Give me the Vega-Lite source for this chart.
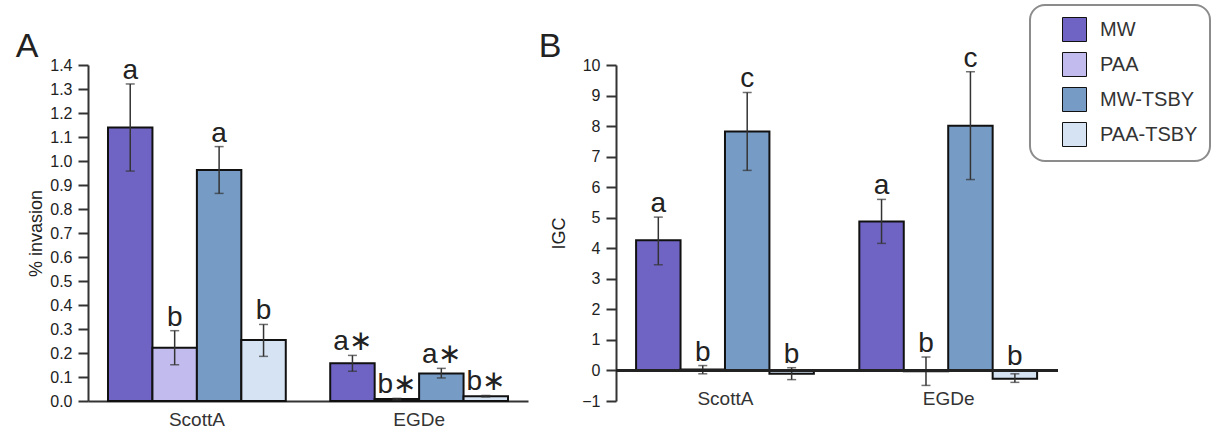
{
  "$schema": "https://vega.github.io/schema/vega-lite/v6.json",
  "padding": {"left": 15, "top": 4, "right": 0, "bottom": 0},
  "config": {
    "font": "Liberation Sans",
    "view": {"stroke": null},
    "axis": {"grid": false, "domainColor": "#333", "domainWidth": 2, "tickColor": "#333", "tickWidth": 2, "labelColor": "#222", "labelFontSize": 16, "titleFontSize": 18, "titleFontWeight": "normal", "titleColor": "#222", "labelOverlap": false},
    "legend": {"strokeColor": "#8c8c8c", "strokeWidth": 2, "cornerRadius": 15, "fillColor": "white"}
  },
  "datasets": {
    "invasion": [
      {"strain": "ScottA", "treatment": "MW", "mean": 1.14, "lo": 0.958, "hi": 1.321, "letter": "a"},
      {"strain": "ScottA", "treatment": "PAA", "mean": 0.222, "lo": 0.151, "hi": 0.293, "letter": "b"},
      {"strain": "ScottA", "treatment": "MW-TSBY", "mean": 0.963, "lo": 0.865, "hi": 1.06, "letter": "a"},
      {"strain": "ScottA", "treatment": "PAA-TSBY", "mean": 0.254, "lo": 0.186, "hi": 0.319, "letter": "b"},
      {"strain": "EGDe", "treatment": "MW", "mean": 0.157, "lo": 0.124, "hi": 0.19, "letter": "a∗"},
      {"strain": "EGDe", "treatment": "PAA", "mean": 0.008, "lo": 0.005, "hi": 0.011, "letter": "b∗"},
      {"strain": "EGDe", "treatment": "MW-TSBY", "mean": 0.115, "lo": 0.096, "hi": 0.136, "letter": "a∗"},
      {"strain": "EGDe", "treatment": "PAA-TSBY", "mean": 0.02, "lo": 0.017, "hi": 0.023, "letter": "b∗"}
    ],
    "igc": [
      {"strain": "ScottA", "treatment": "MW", "mean": 4.26, "lo": 3.46, "hi": 5.02, "letter": "a"},
      {"strain": "ScottA", "treatment": "PAA", "mean": 0.03, "lo": -0.11, "hi": 0.16, "letter": "b"},
      {"strain": "ScottA", "treatment": "MW-TSBY", "mean": 7.82, "lo": 6.55, "hi": 9.1, "letter": "c"},
      {"strain": "ScottA", "treatment": "PAA-TSBY", "mean": -0.11, "lo": -0.3, "hi": 0.09, "letter": "b"},
      {"strain": "EGDe", "treatment": "MW", "mean": 4.88, "lo": 4.16, "hi": 5.6, "letter": "a"},
      {"strain": "EGDe", "treatment": "PAA", "mean": -0.03, "lo": -0.49, "hi": 0.44, "letter": "b"},
      {"strain": "EGDe", "treatment": "MW-TSBY", "mean": 8.01, "lo": 6.25, "hi": 9.78, "letter": "c"},
      {"strain": "EGDe", "treatment": "PAA-TSBY", "mean": -0.27, "lo": -0.39, "hi": -0.11, "letter": "b"}
    ]
  },
  "spacing": 10,
  "hconcat": [
    {
      "width": 440,
      "height": 336,
      "title": {"text": "A", "anchor": "start", "frame": "bounds", "fontSize": 34, "fontWeight": "normal", "baseline": "alphabetic", "offset": -34, "dx": -12, "color": "#222"},
      "data": {"name": "invasion"},
      "encoding": {
        "x": {"field": "strain", "type": "nominal", "sort": ["ScottA", "EGDe"], "scale": {"paddingInner": 0.2, "paddingOuter": 0.09}, "axis": {"title": null, "labelAngle": 0, "ticks": false, "tickSize": 0, "labelPadding": 9, "labelFontSize": 19, "labelColor": "#333"}},
        "xOffset": {"field": "treatment", "type": "nominal", "sort": ["MW", "PAA", "MW-TSBY", "PAA-TSBY"], "scale": {"paddingInner": 0, "paddingOuter": 0}}
      },
      "layer": [
        {
          "mark": {"type": "bar", "stroke": "#111", "strokeWidth": 2},
          "encoding": {
            "y": {"field": "mean", "type": "quantitative", "scale": {"domain": [0, 1.4], "nice": false}, "axis": {"title": "% invasion", "values": [0, 0.1, 0.2, 0.3, 0.4, 0.5, 0.6, 0.7, 0.8, 0.9, 1.0, 1.1, 1.2, 1.3, 1.4], "format": ".1f", "ticks": true, "tickSize": 10, "tickWidth": 2, "tickColor": "#333", "labelOverlap": false, "labelFontSize": 16, "labelPadding": 6, "titlePadding": 4}},
            "color": {"field": "treatment", "type": "nominal", "scale": {"domain": ["MW", "PAA", "MW-TSBY", "PAA-TSBY"], "range": ["#6f64c4", "#c1bced", "#769cc6", "#d5e3f3"]},
              "legend": {"title": null, "orient": "none", "legendX": 942, "legendY": -60, "symbolType": "square", "symbolSize": 576, "symbolStrokeColor": "#aaa", "symbolStrokeWidth": 1, "labelFontSize": 20, "labelColor": "#333", "rowPadding": 6, "padding": 12, "symbolOffset": 20, "labelOffset": 13}}
          }
        },
        {
          "mark": {"type": "rule", "color": "#333", "strokeWidth": 1.5},
          "encoding": {"y": {"field": "lo", "type": "quantitative", "axis": {"title": "% invasion", "values": [0, 0.1, 0.2, 0.3, 0.4, 0.5, 0.6, 0.7, 0.8, 0.9, 1.0, 1.1, 1.2, 1.3, 1.4], "format": ".1f", "ticks": true, "tickSize": 10, "tickWidth": 2, "tickColor": "#333", "labelOverlap": false, "labelFontSize": 16, "labelPadding": 6, "titlePadding": 4}}, "y2": {"field": "hi"}}
        },
        {
          "mark": {"type": "tick", "color": "#333", "size": 9, "thickness": 1.5},
          "encoding": {"y": {"field": "lo", "type": "quantitative", "axis": {"title": "% invasion", "values": [0, 0.1, 0.2, 0.3, 0.4, 0.5, 0.6, 0.7, 0.8, 0.9, 1.0, 1.1, 1.2, 1.3, 1.4], "format": ".1f", "ticks": true, "tickSize": 10, "tickWidth": 2, "tickColor": "#333", "labelOverlap": false, "labelFontSize": 16, "labelPadding": 6, "titlePadding": 4}}}
        },
        {
          "mark": {"type": "tick", "color": "#333", "size": 9, "thickness": 1.5},
          "encoding": {"y": {"field": "hi", "type": "quantitative", "axis": {"title": "% invasion", "values": [0, 0.1, 0.2, 0.3, 0.4, 0.5, 0.6, 0.7, 0.8, 0.9, 1.0, 1.1, 1.2, 1.3, 1.4], "format": ".1f", "ticks": true, "tickSize": 10, "tickWidth": 2, "tickColor": "#333", "labelOverlap": false, "labelFontSize": 16, "labelPadding": 6, "titlePadding": 4}}}
        },
        {
          "transform": [{"calculate": "max(datum.hi, 0)", "as": "labelY"}],
          "mark": {"type": "text", "dy": -5, "baseline": "alphabetic", "fontSize": 28, "color": "#222"},
          "encoding": {"y": {"field": "labelY", "type": "quantitative", "axis": {"title": "% invasion", "values": [0, 0.1, 0.2, 0.3, 0.4, 0.5, 0.6, 0.7, 0.8, 0.9, 1.0, 1.1, 1.2, 1.3, 1.4], "format": ".1f", "ticks": true, "tickSize": 10, "tickWidth": 2, "tickColor": "#333", "labelOverlap": false, "labelFontSize": 16, "labelPadding": 6, "titlePadding": 4}}, "text": {"field": "letter"}}
        }
      ]
    },
    {
      "width": 442,
      "height": 336,
      "title": {"text": "B", "anchor": "start", "frame": "bounds", "fontSize": 34, "fontWeight": "normal", "baseline": "alphabetic", "offset": -46, "dx": -12, "color": "#222"},
      "data": {"name": "igc"},
      "layer": [
        {
          "encoding": {
            "x": {"field": "strain", "type": "nominal", "sort": ["ScottA", "EGDe"], "scale": {"paddingInner": 0.2, "paddingOuter": 0.09}, "axis": {"title": null, "labelAngle": 0, "domain": false, "ticks": false, "tickSize": 0, "labelPadding": -12, "labelFontSize": 19, "labelColor": "#333"}},
            "xOffset": {"field": "treatment", "type": "nominal", "sort": ["MW", "PAA", "MW-TSBY", "PAA-TSBY"], "scale": {"paddingInner": 0, "paddingOuter": 0}}
          },
          "layer": [
            {
              "mark": {"type": "bar", "stroke": "#111", "strokeWidth": 2},
              "encoding": {
                "y": {"field": "mean", "type": "quantitative", "scale": {"domain": [-1, 10], "nice": false}, "axis": {"title": "IGC", "values": [-1, 0, 1, 2, 3, 4, 5, 6, 7, 8, 9, 10], "ticks": true, "tickSize": 10, "tickWidth": 2, "tickColor": "#333", "labelOverlap": false, "labelFontSize": 16, "labelPadding": 6, "titlePadding": 13}},
                "color": {"field": "treatment", "type": "nominal", "scale": {"domain": ["MW", "PAA", "MW-TSBY", "PAA-TSBY"], "range": ["#6f64c4", "#c1bced", "#769cc6", "#d5e3f3"]}}
              }
            },
            {
              "mark": {"type": "rule", "color": "#333", "strokeWidth": 1.5},
              "encoding": {"y": {"field": "lo", "type": "quantitative", "axis": {"title": "IGC", "values": [-1, 0, 1, 2, 3, 4, 5, 6, 7, 8, 9, 10], "ticks": true, "tickSize": 10, "tickWidth": 2, "tickColor": "#333", "labelOverlap": false, "labelFontSize": 16, "labelPadding": 6, "titlePadding": 13}}, "y2": {"field": "hi"}}
            },
            {
              "mark": {"type": "tick", "color": "#333", "size": 9, "thickness": 1.5},
              "encoding": {"y": {"field": "lo", "type": "quantitative", "axis": {"title": "IGC", "values": [-1, 0, 1, 2, 3, 4, 5, 6, 7, 8, 9, 10], "ticks": true, "tickSize": 10, "tickWidth": 2, "tickColor": "#333", "labelOverlap": false, "labelFontSize": 16, "labelPadding": 6, "titlePadding": 13}}}
            },
            {
              "mark": {"type": "tick", "color": "#333", "size": 9, "thickness": 1.5},
              "encoding": {"y": {"field": "hi", "type": "quantitative", "axis": {"title": "IGC", "values": [-1, 0, 1, 2, 3, 4, 5, 6, 7, 8, 9, 10], "ticks": true, "tickSize": 10, "tickWidth": 2, "tickColor": "#333", "labelOverlap": false, "labelFontSize": 16, "labelPadding": 6, "titlePadding": 13}}}
            },
            {
              "transform": [{"calculate": "max(datum.hi, 0)", "as": "labelY"}],
              "mark": {"type": "text", "dy": -5, "baseline": "alphabetic", "fontSize": 28, "color": "#222"},
              "encoding": {"y": {"field": "labelY", "type": "quantitative", "axis": {"title": "IGC", "values": [-1, 0, 1, 2, 3, 4, 5, 6, 7, 8, 9, 10], "ticks": true, "tickSize": 10, "tickWidth": 2, "tickColor": "#333", "labelOverlap": false, "labelFontSize": 16, "labelPadding": 6, "titlePadding": 13}}, "text": {"field": "letter"}}
            }
          ]
        },
        {
          "mark": {"type": "rule", "color": "#222", "strokeWidth": 2},
          "encoding": {"y": {"datum": 0, "type": "quantitative", "axis": {"title": "IGC", "values": [-1, 0, 1, 2, 3, 4, 5, 6, 7, 8, 9, 10], "ticks": true, "tickSize": 10, "tickWidth": 2, "tickColor": "#333", "labelOverlap": false, "labelFontSize": 16, "labelPadding": 6, "titlePadding": 13}}}
        }
      ]
    }
  ]
}
